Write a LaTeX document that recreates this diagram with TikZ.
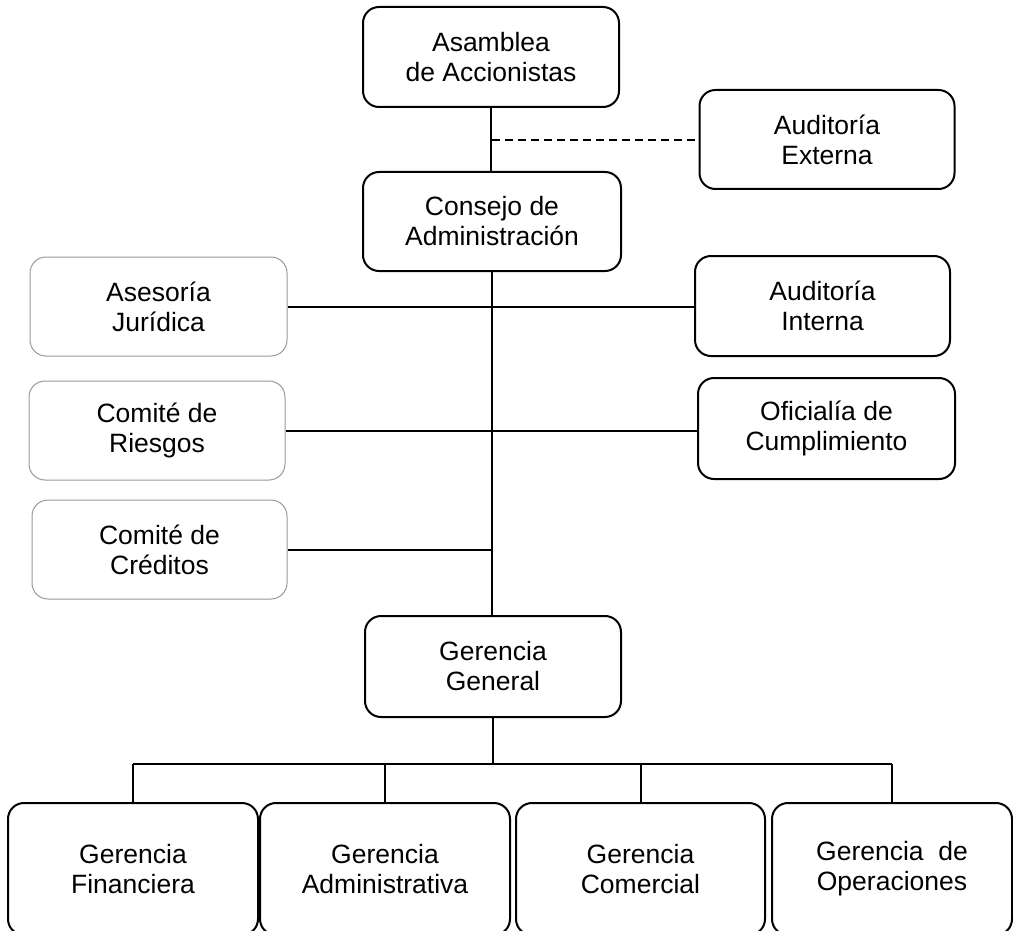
\documentclass[tikz,border=0pt]{standalone}
\usepackage{fontspec}
\setmainfont{Liberation Sans}
\begin{document}
\begin{tikzpicture}[x=1pt,y=-1pt,
  box/.style={draw=black, line width=2pt, rounded corners=16pt, align=center,
    inner sep=0pt, font=\fontsize{26.5}{30}\selectfont, fill=white},
  graybox/.style={box, draw=black!40, line width=1pt},
  conn/.style={line width=2pt, black},
  dconn/.style={line width=2pt, black, dash pattern=on 8pt off 5pt}]
\useasboundingbox (0,0) rectangle (1013,931);
\clip (0,0) rectangle (1013,931);
\coordinate (bus) at (493,764);
\coordinate (dj) at (492,140);
\node[box, minimum width=256pt, minimum height=100pt] (asam) at (491,57) {Asamblea\\de Accionistas};
\node[box, minimum width=255pt, minimum height=99pt] (ext) at (827,139.5) {Auditoría\\Externa};
\node[box, minimum width=258pt, minimum height=99pt] (cons) at (492,221.5) {Consejo de\\Administración};
\node[graybox, minimum width=257pt, minimum height=99pt] (ases) at (158.5,306.5) {Asesoría\\Jurídica};
\node[graybox, minimum width=256pt, minimum height=99pt] (ries) at (157,430.5) {Comité de\\Riesgos};
\node[graybox, minimum width=255pt, minimum height=99pt] (cred) at (159.5,549.5) {Comité de\\Créditos};
\node[box, minimum width=255pt, minimum height=100pt] (int) at (822.5,306) {Auditoría\\Interna};
\node[box, minimum width=257pt, minimum height=101pt] (ofi) at (826.5,428.5) {Oficialía de\\Cumplimiento};
\node[box, minimum width=256pt, minimum height=101pt] (gg) at (493,666.5) {Gerencia\\General};
\node[box, minimum width=250pt, minimum height=132pt] (gf) at (133,869) {Gerencia\\Financiera};
\node[box, minimum width=250pt, minimum height=132pt] (ga) at (385,869) {Gerencia\\Administrativa};
\node[box, minimum width=249pt, minimum height=132pt] (gc) at (640.5,869) {Gerencia\\Comercial};
\node[box, minimum width=240pt, minimum height=132pt] (go) at (892,869) {Gerencia\hspace{0.55em}de\\Operaciones};
% connectors
\draw[conn] (asam.south) -- (asam.south |- cons.north);
\draw[dconn] (dj) -- (dj -| ext.west);
\draw[conn] (cons.south) -- (cons.south |- gg.north);
\draw[conn] (ases.east) -- (ases.east -| int.west);
\draw[conn] (ries.east) -- (ries.east -| ofi.west);
\draw[conn] (cred.east) -- (cred.east -| cons.south);
\draw[conn] (gg.south) -- (bus);
\draw[conn] (gf.north |- bus) -- (go.north |- bus);
\draw[conn] (gf.north |- bus) -- (gf.north);
\draw[conn] (ga.north |- bus) -- (ga.north);
\draw[conn] (gc.north |- bus) -- (gc.north);
\draw[conn] (go.north |- bus) -- (go.north);
\end{tikzpicture}
\end{document}
